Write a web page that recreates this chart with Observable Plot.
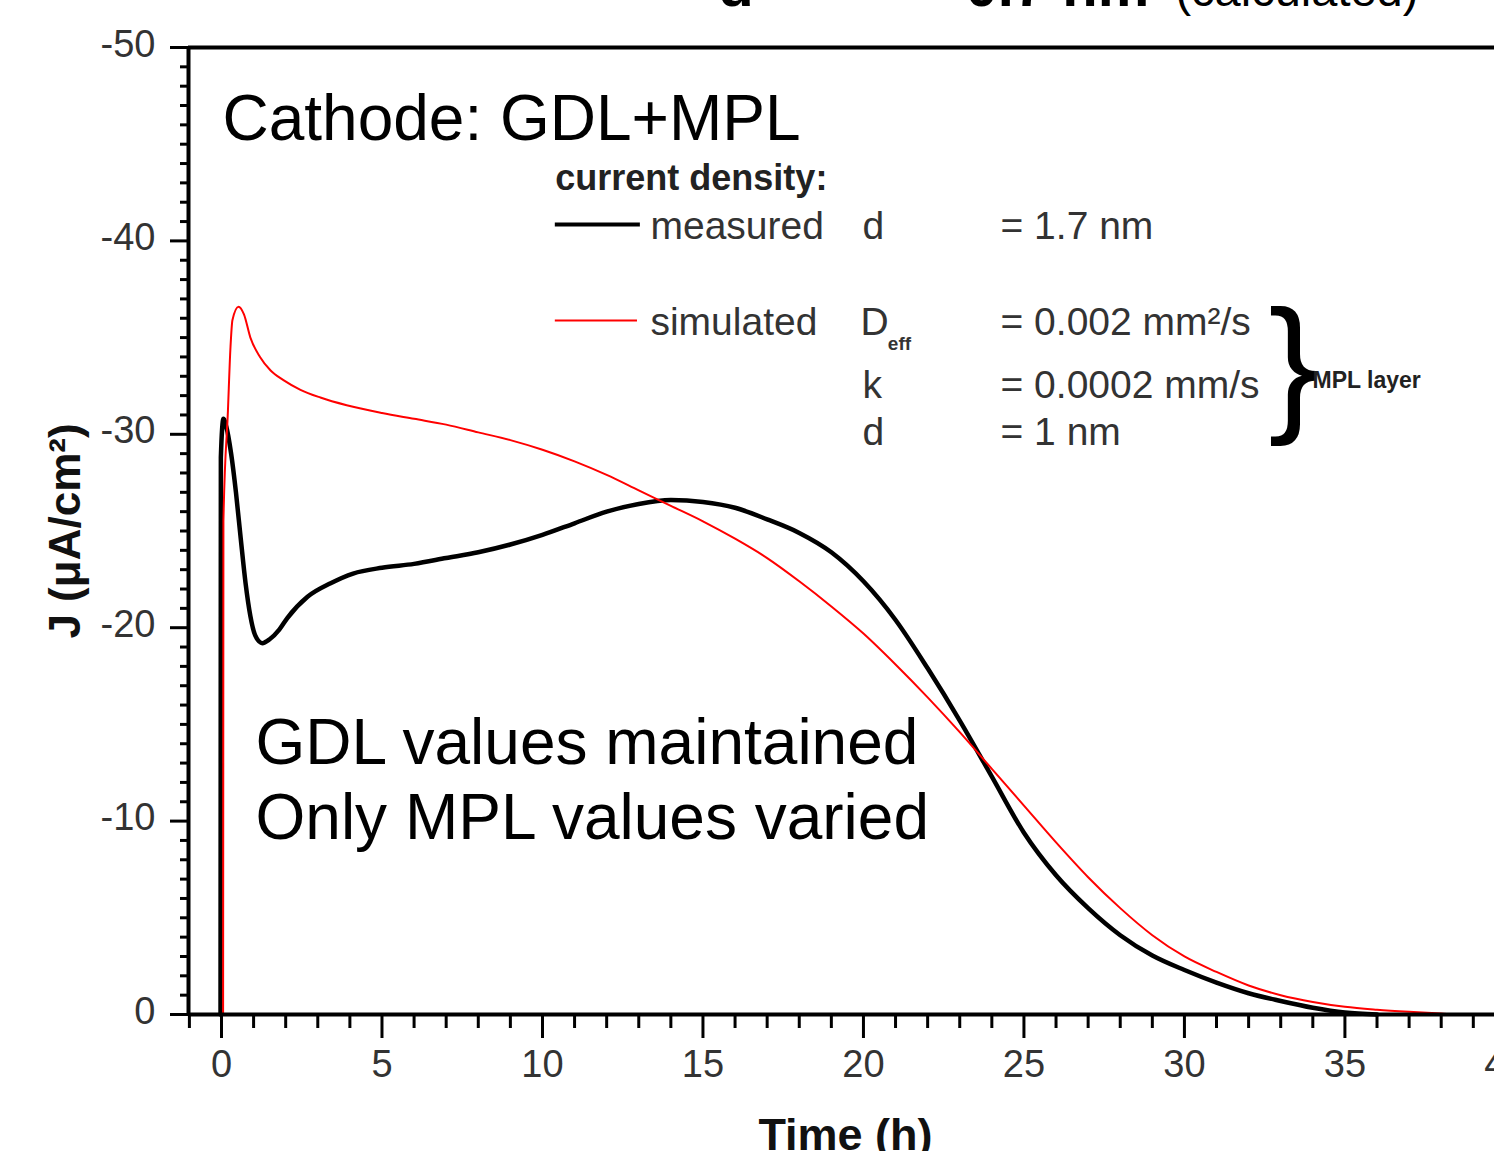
<!DOCTYPE html>
<html><head><meta charset="utf-8">
<script src="https://cdn.jsdelivr.net/npm/d3@7"></script>
<script src="https://cdn.jsdelivr.net/npm/@observablehq/plot@0.6"></script>
<style>
html,body{margin:0;padding:0;background:#fff;overflow:hidden;}
#wrap{width:1494px;height:1151px;overflow:hidden;position:relative;}
#wrap svg{max-width:none !important;width:1560px;height:1151px;}
</style></head><body><div id="wrap"></div>
<script>
// ---- data (time in h, current density J in µA/cm²) ----
const measuredT = [-0.03, -0.02, 0.06, 0.15, 0.3, 0.45, 0.6, 0.75, 0.9, 1.05, 1.27, 1.5, 1.8, 2.05, 2.68, 3.4, 4.1, 5, 6, 7, 8, 9, 10, 11, 12, 13, 14, 15, 16, 17, 18, 19, 20, 21, 22, 23, 24, 25, 26, 27, 28, 29, 30, 31, 32, 33, 34, 35, 36];
const measuredJ = [0, -28.8, -30.8, -30.4, -29.0, -27.0, -24.6, -22.3, -20.6, -19.6, -19.2, -19.4, -19.9, -20.5, -21.6, -22.3, -22.8, -23.1, -23.3, -23.6, -23.9, -24.3, -24.8, -25.4, -26.0, -26.4, -26.6, -26.5, -26.2, -25.6, -24.9, -23.9, -22.4, -20.4, -17.9, -15.2, -12.3, -9.4, -7.2, -5.5, -4.1, -3.05, -2.3, -1.65, -1.1, -0.7, -0.35, -0.1, 0];
const simulatedT = [0.05, 0.06, 0.2, 0.28, 0.34, 0.53, 0.7, 0.9, 1.2, 1.53, 1.93, 2.46, 3.08, 3.9, 5, 6, 7, 8, 9, 10, 11, 12, 13, 14, 15, 16, 17, 18, 19, 20, 21, 22, 23, 24, 25, 26, 27, 28, 29, 30, 31, 32, 33, 34, 35, 36, 37, 38, 38.5, 41];
const simulatedJ = [0, -25.5, -31.2, -34.5, -35.9, -36.6, -36.2, -35.0, -34.0, -33.3, -32.8, -32.3, -31.9, -31.5, -31.1, -30.8, -30.5, -30.1, -29.7, -29.2, -28.6, -27.9, -27.1, -26.3, -25.5, -24.6, -23.6, -22.4, -21.1, -19.7, -18.1, -16.4, -14.6, -12.7, -10.8, -8.9, -7.1, -5.5, -4.1, -3.0, -2.2, -1.5, -1.0, -0.65, -0.4, -0.25, -0.14, -0.05, 0, 0];

const xMajorTicks = [0, 5, 10, 15, 20, 25, 30, 35, 40];
const xMinorTicks = d3.range(-1, 42).filter(v => v % 5 !== 0);
const yMajorTicks = [-50, -40, -30, -20, -10, 0];
const yMinorTicks = d3.range(-50, 1).filter(v => v % 10 !== 0);

const measured = measuredT.map((t, i) => ({t, j: measuredJ[i]}));
const simulated = simulatedT.map((t, i) => ({t, j: simulatedJ[i]}));

const FONT = "Liberation Sans, Arial, Helvetica, sans-serif";
const GREY = "#333";
const X0 = -1.028, X1 = 41;

const txt = (s, x, y, o = {}) => Plot.text([s], {x, y, text: d => d, textAnchor: "start", lineAnchor: "bottom", fontFamily: FONT, fill: GREY, fontSize: 39, ...o});

const plot = Plot.plot({
  width: 1560, height: 1151,
  marginLeft: 188, marginRight: 23, marginTop: 47, marginBottom: 137,
  style: {fontFamily: FONT, background: "white", maxWidth: "none"},
  x: {domain: [X0, X1], axis: null},
  y: {domain: [0, -50], axis: null},
  marks: [
    // curves
    Plot.line(measured, {x: "t", y: "j", stroke: "black", strokeWidth: 4.5, curve: "monotone-x", strokeLinejoin: "round"}),
    Plot.line(simulated, {x: "t", y: "j", stroke: "#ff0000", strokeWidth: 2, curve: "monotone-x"}),
    // frame lines
    Plot.ruleX([X0], {stroke: "black", strokeWidth: 4}),
    Plot.ruleY([0], {stroke: "black", strokeWidth: 4}),
    Plot.ruleY([-50], {stroke: "black", strokeWidth: 4}),
    // x axis ticks + labels
    Plot.axisX(xMinorTicks, {anchor: "bottom", tickSize: 14, strokeWidth: 3, stroke: "black", fill: "none", label: null}),
    Plot.axisX(xMajorTicks, {anchor: "bottom", tickSize: 24, strokeWidth: 3, stroke: "black", fill: "none", label: null}),
    Plot.axisX(xMajorTicks, {anchor: "bottom", tickSize: 0, tickPadding: 36, stroke: "none", fill: GREY, fontSize: 38, fontFamily: FONT, label: null, tickFormat: d => String(d)}),
    // y axis ticks + labels
    Plot.axisY(yMinorTicks, {anchor: "left", tickSize: 8, strokeWidth: 3, stroke: "black", fill: "none", label: null}),
    Plot.axisY(yMajorTicks, {anchor: "left", tickSize: 18, strokeWidth: 3, stroke: "black", fill: "none", label: null}),
    Plot.axisY(yMajorTicks, {anchor: "left", tickSize: 0, tickPadding: 33, stroke: "none", fill: GREY, fontSize: 38, fontFamily: FONT, label: null, dy: -3, tickFormat: d => String(d)}),
    // axis titles
    Plot.text(["J (\u03BCA/cm\u00B2)"], {frameAnchor: "left", dx: -123, rotate: -90, fontSize: 44, fontWeight: "bold", textAnchor: "middle", lineAnchor: "middle", fontFamily: FONT, fill: "#111"}),
    Plot.text(["Time (h)"], {x: 19.44, frameAnchor: "bottom", dy: 104, lineAnchor: "top", textAnchor: "middle", fontSize: 45, fontWeight: "bold", fontFamily: FONT, fill: "#111"}),
    // partially visible title at top
    Plot.text(["d"], {x: 15.48, frameAnchor: "top", dy: -42, lineAnchor: "bottom", textAnchor: "start", fontSize: 58, fontWeight: "bold", fontFamily: FONT, fill: "black"}),
    Plot.text(["0.7 nm"], {x: 23.18, frameAnchor: "top", dy: -42, lineAnchor: "bottom", textAnchor: "start", fontSize: 58, fontWeight: "bold", fontFamily: FONT, fill: "black"}),
    Plot.text(["(calculated)"], {x: 29.72, frameAnchor: "top", dy: -42, lineAnchor: "bottom", textAnchor: "start", fontSize: 47, fontFamily: FONT, fill: "black"}),
    // big annotations
    txt("Cathode: GDL+MPL", 0.03, -45.24, {fontSize: 64, fill: "black"}),
    txt("GDL values maintained", 1.06, -12.93, {fontSize: 64, fill: "black"}),
    txt("Only MPL values varied", 1.06, -9.10, {fontSize: 64, fill: "black"}),
    // legend
    txt("current density:", 10.40, -42.61, {fontSize: 36, fontWeight: "bold", fill: "#222"}),
    Plot.ruleY([-40.85], {x1: 10.40, x2: 13.05, stroke: "black", strokeWidth: 4}),
    txt("measured", 13.364, -40.12),
    txt("d", 19.97, -40.12),
    txt("= 1.7 nm", 24.27, -40.12),
    Plot.ruleY([-35.88], {x1: 10.40, x2: 12.96, stroke: "#ff0000", strokeWidth: 2}),
    txt("simulated", 13.364, -35.16),
    txt("D", 19.91, -35.16),
    txt("eff", 20.76, -34.38, {fontSize: 19, fontWeight: "bold"}),
    txt("= 0.002 mm\u00B2/s", 24.27, -35.16),
    txt("k", 19.97, -31.90),
    txt("= 0.0002 mm/s", 24.27, -31.90),
    txt("d", 19.97, -29.47),
    txt("= 1 nm", 24.27, -29.47),
    Plot.text(["}"], {x: 32.62, y: -33.5, text: d => d, fontSize: 150, lineAnchor: "middle", textAnchor: "start", fontFamily: FONT, fill: "black"}),
    txt("MPL layer", 33.99, -32.78, {fontSize: 23, fontWeight: "bold", lineAnchor: "middle", fill: "#222"})
  ]
});
document.getElementById("wrap").appendChild(plot);
</script>
</body></html>
